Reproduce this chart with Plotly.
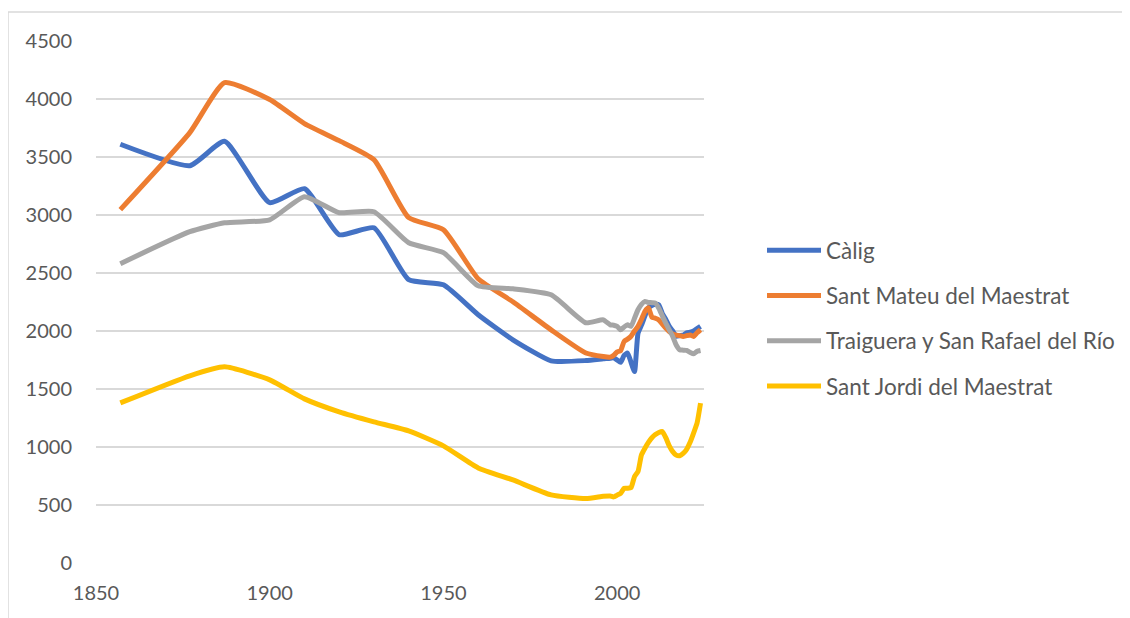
import plotly.graph_objects as go

years = [1857, 1877, 1887, 1900, 1910, 1920, 1930, 1940, 1950, 1960, 1970, 1981, 1991, 1996,
         1998, 1999, 2000, 2001, 2002, 2003, 2004, 2005, 2006, 2007, 2008, 2009, 2010, 2011,
         2012, 2013, 2014, 2015, 2016, 2017, 2018, 2019, 2020, 2021, 2022, 2023, 2024]

calig = [3610, 3425, 3635, 3106, 3227, 2830, 2890, 2442, 2398, 2140, 1924, 1743, 1745, 1760,
         1765, 1770, 1750, 1730, 1790, 1810, 1730, 1650, 1980, 2050, 2130, 2200, 2220, 2230,
         2225, 2150, 2100, 2040, 2000, 1955, 1960, 1965, 1985, 1990, 2000, 2020, 2040]

sant_mateu = [3046, 3710, 4141, 3995, 3788, 3641, 3477, 2977, 2873, 2450, 2252, 2010, 1810, 1780,
              1775, 1790, 1820, 1830, 1910, 1930, 1955, 2000, 2040, 2100, 2170, 2200, 2120, 2110,
              2095, 2060, 2025, 1995, 1975, 1965, 1960, 1953, 1960, 1966, 1953, 1985, 2011]

traiguera = [2580, 2856, 2933, 2959, 3158, 3020, 3028, 2761, 2675, 2390, 2364, 2312, 2071, 2096,
             2053, 2050, 2040, 2010, 2035, 2053, 2040, 2110, 2183, 2230, 2255, 2246, 2244, 2240,
             2197, 2130, 2068, 2010, 1953, 1880, 1838, 1835, 1832, 1815, 1803, 1825, 1832]

sant_jordi = [1380, 1614, 1691, 1579, 1415, 1303, 1217, 1139, 1010, 820, 716, 587, 555, 575,
              578, 570, 585, 601, 644, 644, 650, 745, 788, 932, 990, 1040, 1080, 1107,
              1125, 1133, 1080, 1010, 960, 930, 925, 945, 980, 1040, 1120, 1205, 1378]

series_names = ["Càlig", "Sant Mateu del Maestrat", "Traiguera y San Rafael del Río", "Sant Jordi del Maestrat"]
series_values = [calig, sant_mateu, traiguera, sant_jordi]
colors = ["#4472C4", "#ED7D31", "#A5A5A5", "#FFC000"]

x_ticks = [1850, 1900, 1950, 2000]
y_ticks = [0, 500, 1000, 1500, 2000, 2500, 3000, 3500, 4000, 4500]

fig = go.Figure()
for i, (name, vals, col) in enumerate(zip(series_names, series_values, colors)):
    fig.add_trace(go.Scatter(
        x=years, y=vals, name=name, mode="lines",
        line=dict(color=col, width=5, shape="spline", smoothing=0.5),
        legendgroup=f"g{i}",
    ))

# page body has an 8px margin, so everything is offset by 8px
OFF = 8
W, H = 1122, 610
L, T, B = 96 - OFF, 41 - OFF, 55
pw = 608
R = W - L - pw
ph = H - T - B


def px_x(px):
    return (px - 96) / pw


def px_y(py):
    return (563 - py) / ph


fig.update_layout(
    width=W, height=H,
    margin=dict(l=L, r=R, t=T, b=B, autoexpand=False),
    paper_bgcolor="white", plot_bgcolor="white",
    font=dict(family="Lato, 'Open Sans', sans-serif", size=20, color="#595959"),
    showlegend=True,
    legend=dict(
        x=px_x(762), xanchor="left",
        y=px_y(318), yanchor="middle",
        font=dict(size=22.5, color="#595959"),
        traceorder="grouped", tracegroupgap=13,
        itemwidth=54,
        bgcolor="rgba(0,0,0,0)",
    ),
    xaxis=dict(
        range=[1850, 2025], tickvals=x_ticks, showgrid=False, zeroline=False,
        showline=False, ticks="", ticklabelstandoff=16,
        tickfont=dict(size=20, color="#595959"),
    ),
    yaxis=dict(
        range=[0, 4500], tickvals=y_ticks, showgrid=True, gridcolor="#D9D9D9", gridwidth=1.5,
        zeroline=False, showline=False, ticks="", ticklabelstandoff=23,
        tickfont=dict(size=20, color="#595959"),
    ),
    shapes=[dict(
        type="rect", xref="paper", yref="paper",
        x0=px_x(8), x1=px_x(1140),
        y0=px_y(630), y1=px_y(12),
        line=dict(color="#D9D9D9", width=1.5), fillcolor="rgba(0,0,0,0)", layer="below",
    )],
)

fig.write_html("out.html")
